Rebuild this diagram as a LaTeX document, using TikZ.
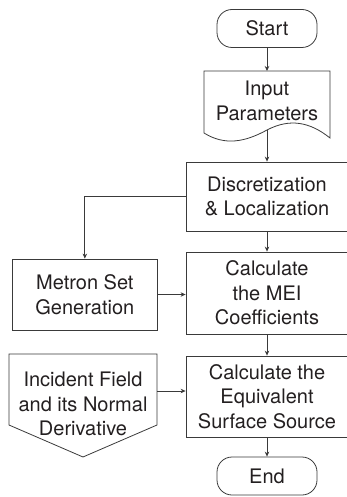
\documentclass[tikz,border=0pt]{standalone}
\usepackage{fontspec}
\setmainfont{TeX Gyre Heros}
\usetikzlibrary{arrows.meta}
\definecolor{ink}{HTML}{231F20}
\definecolor{edge}{HTML}{3A3A3A}
\begin{document}
\begin{tikzpicture}[x=1pt,y=-1pt,
  every node/.style={text=ink,font=\fontsize{20}{24.5}\selectfont,align=center,inner sep=0pt},
  procbox/.style={draw=edge,line width=0.8pt,rectangle},
  termbox/.style={draw=edge,line width=0.8pt,rectangle,rounded corners=15pt,minimum width=100pt,minimum height=38pt},
  shapeline/.style={draw=edge,line width=0.8pt},
  arr/.style={draw=edge,line width=0.8pt,-{Stealth[length=5pt,width=4.5pt]}}]
\useasboundingbox (0,0) rectangle (347,497);
% Start
\node[termbox] (start) at (267,28.5) {Start};
% Input Parameters (document shape)
\draw[shapeline] (204,71) -- (330,71) -- (330,138)
  .. controls (310,122) and (290,118) .. (267,130)
  .. controls (245,142) and (225,146) .. (204,133) -- cycle;
\node (input) at (267,101) {Input\\Parameters};
\coordinate (inputtop) at (267,71);
\coordinate (inputbot) at (267,130);
% Discretization
\node[procbox,minimum width=162pt,minimum height=69pt] (disc) at (267,196.5) {Discretization\\\& Localization};
% Metron
\node[procbox,minimum width=144.3pt,minimum height=71pt] (metron) at (84.85,294.5) {Metron Set\\Generation};
% MEI
\node[procbox,minimum width=162pt,minimum height=82pt] (mei) at (267,293) {Calculate\\the MEI\\Coefficients};
% Incident field (off-page connector shape)
\draw[shapeline] (9,354) -- (157,354) -- (157,425) -- (83,457) -- (9,425) -- cycle;
\node (incident) at (83,404) {Incident Field\\and its Normal\\Derivative};
\coordinate (incR) at (157,391);
% Equivalent
\node[procbox,minimum width=162pt,minimum height=81pt] (equiv) at (267,396.5) {Calculate the\\Equivalent\\Surface Source};
% End
\node[termbox] (end) at (267,476) {End};
% connectors
\draw[arr] (start.south) -- (inputtop);
\draw[arr] (inputbot) -- (disc.north);
\draw[arr] (disc.west) -| (metron.north);
\draw[arr] (disc.south) -- (mei.north);
\draw[arr] (metron.east) -- (mei.west |- metron.east);
\draw[arr] (mei.south) -- (equiv.north);
\draw[arr] (incR) -- (equiv.west |- incR);
\draw[arr] (equiv.south) -- (end.north);
\end{tikzpicture}
\end{document}
